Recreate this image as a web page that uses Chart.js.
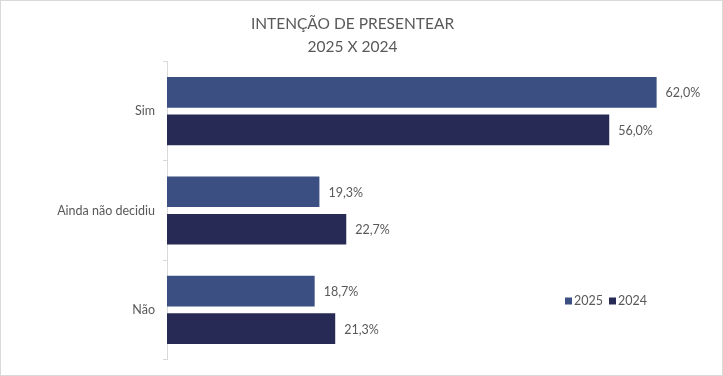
<!DOCTYPE html>
<html>
<head>
<meta charset="utf-8">
<script src="https://cdn.jsdelivr.net/npm/chart.js@4.4.1/dist/chart.umd.min.js"></script>
<style>
  html, body { margin: 0; padding: 0; background: #ffffff; }
  #wrap { width: 723px; height: 376px; box-sizing: border-box; border: 1px solid #d9d9d9; background: #fff; }
  canvas { display: block; }
</style>
</head>
<body>
<div id="wrap"><canvas id="c" width="721" height="374"></canvas></div>
<script>
const titleLines = ["INTENÇÃO DE PRESENTEAR", "2025 X 2024"];
const categories = ["Sim", "Ainda não decidiu", "Não"];
const seriesNames = ["2025", "2024"];
const values2025 = [62.0, 19.3, 18.7];
const values2024 = [56.0, 22.7, 21.3];
const seriesColors = ["#3B4F82", "#272A55"];

const FONT = "Lato, 'Open Sans', sans-serif";
const GRAY = "#595959";

function fmt(v) { return v.toFixed(1).replace(".", ",") + "%"; }

const labelPlugin = {
  id: "barLabels",
  afterDatasetsDraw(chart) {
    const ctx = chart.ctx;
    ctx.save();
    ctx.font = "12.5px " + FONT;
    ctx.fillStyle = GRAY;
    ctx.textAlign = "left";
    ctx.textBaseline = "middle";
    chart.data.datasets.forEach((ds, i) => {
      const meta = chart.getDatasetMeta(i);
      meta.data.forEach((bar, j) => {
        ctx.fillText(fmt(ds.data[j]), bar.x + 9, bar.y + 1);
      });
    });
    ctx.restore();
  }
};

const legendPlugin = {
  id: "customLegend",
  afterDraw(chart) {
    const ctx = chart.ctx;
    ctx.save();
    ctx.font = "12.5px " + FONT;
    ctx.textBaseline = "middle";
    ctx.textAlign = "left";
    let x = 564;
    const y = 300;
    chart.data.datasets.forEach(ds => {
      ctx.fillStyle = ds.backgroundColor;
      ctx.fillRect(x, y - 3.5, 7, 7);
      ctx.fillStyle = GRAY;
      ctx.fillText(ds.label, x + 9, y);
      x += 9 + ctx.measureText(ds.label).width + 6;
    });
    ctx.restore();
  }
};

new Chart(document.getElementById("c"), {
  type: "bar",
  data: {
    labels: categories,
    datasets: [
      { label: seriesNames[0], data: values2025, backgroundColor: seriesColors[0] },
      { label: seriesNames[1], data: values2024, backgroundColor: seriesColors[1] }
    ]
  },
  options: {
    indexAxis: "y",
    responsive: false,
    animation: false,
    categoryPercentage: 0.755,
    barPercentage: 0.816,
    layout: { padding: { top: 11, bottom: 8, left: 0, right: 18 } },
    plugins: {
      legend: { display: false },
      tooltip: { enabled: false },
      title: {
        display: true,
        text: titleLines,
        color: GRAY,
        font: { family: FONT, size: 15.5, weight: "normal", lineHeight: 1.5 },
        padding: { top: 0, bottom: 3 }
      }
    },
    scales: {
      x: { display: false, min: 0, max: 68 },
      y: {
        offset: true,
        grid: { display: true, offset: true, drawOnChartArea: false, drawTicks: true, tickLength: 4, color: "#d9d9d9" },
        border: { display: true, color: "#d9d9d9" },
        ticks: { color: GRAY, padding: 8, font: { family: FONT, size: 12.5 } },
        afterFit(scale) { scale.width = 166; }
      }
    }
  },
  plugins: [labelPlugin, legendPlugin]
});
</script>
</body>
</html>
